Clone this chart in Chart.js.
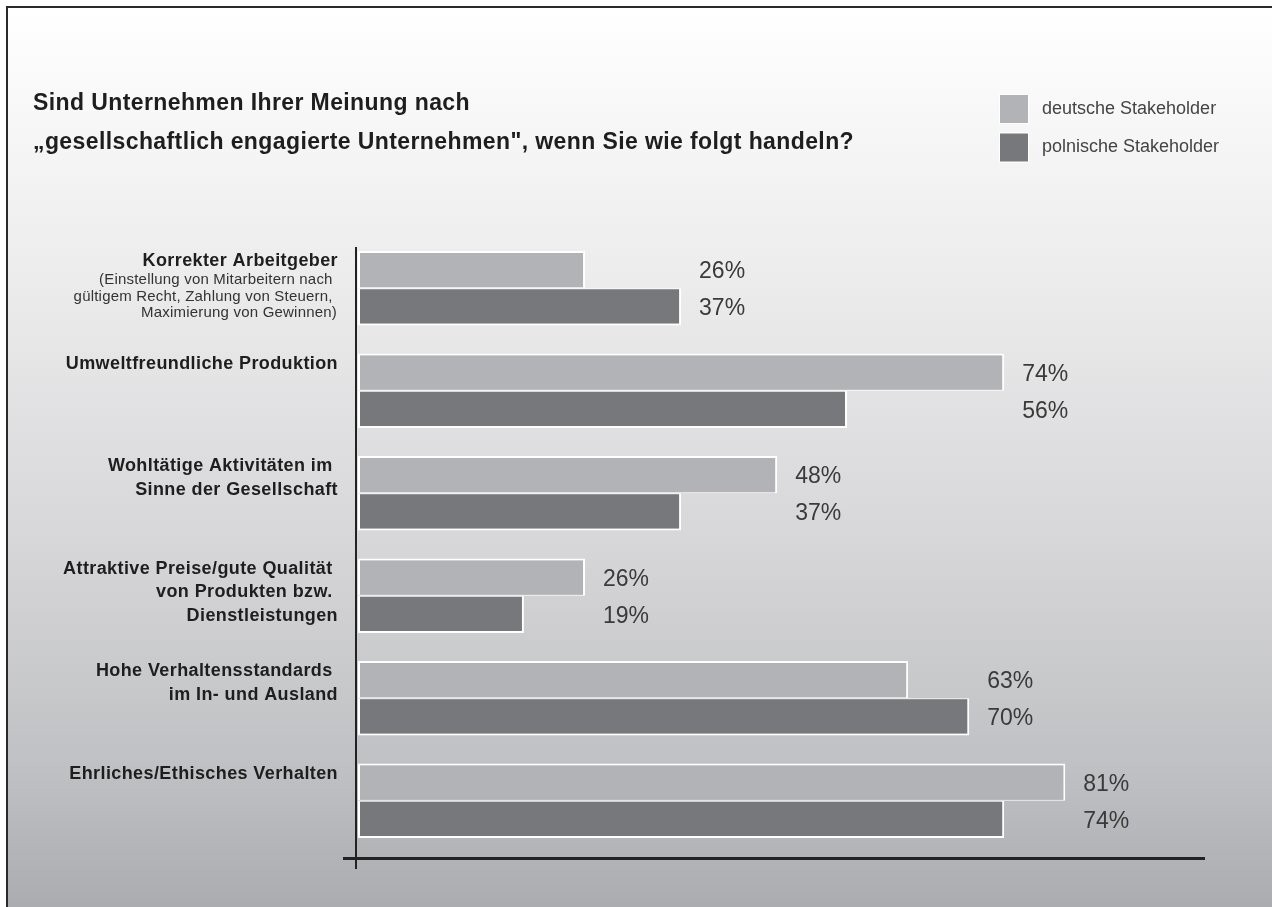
<!DOCTYPE html>
<html>
<head>
<meta charset="utf-8">
<style>
html,body{margin:0;padding:0;background:#fff;}
#wrap{position:relative;width:1272px;height:907px;}
canvas{display:block;}
</style>
<script src="https://cdn.jsdelivr.net/npm/chart.js@4/dist/chart.umd.min.js"></script>
</head>
<body>
<div id="wrap"><canvas id="c" width="1272" height="907"></canvas></div>
<script>
const titleLines = ["Sind Unternehmen Ihrer Meinung nach",
  "\u201egesellschaftlich engagierte Unternehmen\", wenn Sie wie folgt handeln?"];
const categoryTitles = [
  ["Korrekter Arbeitgeber"],
  ["Umweltfreundliche Produktion"],
  ["Wohltätige Aktivitäten im ", "Sinne der Gesellschaft"],
  ["Attraktive Preise/gute Qualität ", "von Produkten bzw. ", "Dienstleistungen"],
  ["Hohe Verhaltensstandards ", "im In- und Ausland"],
  ["Ehrliches/Ethisches Verhalten"]
];
const categorySubtitles = [
  ["(Einstellung von Mitarbeitern nach ", "gültigem Recht, Zahlung von Steuern, ", "Maximierung von Gewinnen)"],
  [], [], [], [], []
];
const categories = categoryTitles.map(t => t.join(" ").replace(/\s+/g, " ").trim());
const seriesNames = ["deutsche Stakeholder", "polnische Stakeholder"];
const deutsche = [26, 74, 48, 26, 63, 81];
const polnische = [37, 56, 37, 19, 70, 74];

const colDe = "#b2b3b6";
const colPl = "#77787c";
const FONT = "'Liberation Sans', Arial, sans-serif";

const bgPlugin = {
  id: "bg",
  beforeDraw(chart) {
    const ctx = chart.ctx;
    ctx.save();
    ctx.fillStyle = "#ffffff";
    ctx.fillRect(0, 0, 1272, 907);
    const g = ctx.createLinearGradient(0, 8, 0, 907);
    g.addColorStop(0, "#ffffff");
    g.addColorStop(0.3, "#ececed");
    g.addColorStop(0.6, "#d6d6d8");
    g.addColorStop(0.85, "#bfc0c3");
    g.addColorStop(1, "#abacb0");
    ctx.fillStyle = g;
    ctx.fillRect(8, 8, 1272 - 8, 907 - 8);
    ctx.fillStyle = "#2a2a2a";
    ctx.fillRect(6, 6, 1272 - 6, 2);
    ctx.fillRect(6, 6, 2, 907 - 6);
    // title
    ctx.fillStyle = "#1e1e1e";
    ctx.font = "bold 23px " + FONT;
    ctx.letterSpacing = "0.4px";
    ctx.textAlign = "left";
    ctx.textBaseline = "middle";
    ctx.fillText(titleLines[0], 33, 104);
    ctx.fillText(titleLines[1], 33, 143);
    // legend
    const cols = [colDe, colPl];
    ctx.letterSpacing = "0px";
    ctx.font = "18px " + FONT;
    for (let i = 0; i < 2; i++) {
      const y = 95 + i * 38.5;
      ctx.fillStyle = "#ffffff";
      ctx.fillRect(999, y - 1, 30, 30);
      ctx.fillStyle = cols[i];
      ctx.fillRect(1000, y, 28, 28);
      ctx.fillStyle = "#444";
      ctx.fillText(seriesNames[i], 1042, y + 14);
    }
    ctx.restore();
  },
  afterDatasetsDraw(chart) {
    const ctx = chart.ctx;
    const xs = chart.scales.x, ys = chart.scales.y;
    ctx.save();
    // axes
    ctx.fillStyle = "#222";
    ctx.fillRect(355, 247, 2, 622);
    ctx.fillRect(343, 857, 862, 3);
    // category labels
    ctx.textAlign = "right";
    ctx.textBaseline = "middle";
    categories.forEach((c, i) => {
      const cy = ys.getPixelForValue(i);
      const y = cy - 27;
      ctx.fillStyle = "#1e1e1e";
      ctx.font = "bold 18px " + FONT;
      ctx.letterSpacing = "0.4px";
      categoryTitles[i].forEach((line, k) => {
        ctx.fillText(line, 338, y + k * 23.5);
      });
      ctx.font = "15px " + FONT;
      ctx.letterSpacing = "0.2px";
      ctx.fillStyle = "#333";
      categorySubtitles[i].forEach((line, k) => {
        ctx.fillText(line, 337, y + 19 + k * 16.5);
      });
    });
    // value labels
    const m0 = chart.getDatasetMeta(0), m1 = chart.getDatasetMeta(1);
    ctx.textAlign = "left";
    ctx.letterSpacing = "0px";
    ctx.fillStyle = "#3a3a3a";
    ctx.font = "23px " + FONT;
    categories.forEach((c, i) => {
      const xEnd = Math.max(xs.getPixelForValue(deutsche[i]), xs.getPixelForValue(polnische[i]));
      const lx = xEnd + 18;
      ctx.fillText(deutsche[i] + "%", lx, m0.data[i].y + 2);
      ctx.fillText(polnische[i] + "%", lx, m1.data[i].y + 2);
    });
    ctx.restore();
  }
};

new Chart(document.getElementById("c"), {
  type: "bar",
  data: {
    labels: categories,
    datasets: [
      { label: seriesNames[0], data: deutsche, backgroundColor: colDe, borderColor: "#ffffff",
        borderWidth: { top: 2, right: 2, bottom: 1, left: 2 }, borderSkipped: false },
      { label: seriesNames[1], data: polnische, backgroundColor: colPl, borderColor: "#ffffff",
        borderWidth: { top: 1, right: 2, bottom: 2, left: 2 }, borderSkipped: false }
    ]
  },
  options: {
    indexAxis: "y",
    responsive: false,
    animation: false,
    devicePixelRatio: 1,
    layout: { padding: { left: 358, right: 67, top: 237, bottom: 55 } },
    datasets: { bar: { categoryPercentage: 0.725, barPercentage: 1.0 } },
    scales: {
      x: { display: false, min: 0, max: 97 },
      y: { display: false }
    },
    plugins: { legend: { display: false }, tooltip: { enabled: false }, title: { display: false } }
  },
  plugins: [bgPlugin]
});
</script>
</body>
</html>
